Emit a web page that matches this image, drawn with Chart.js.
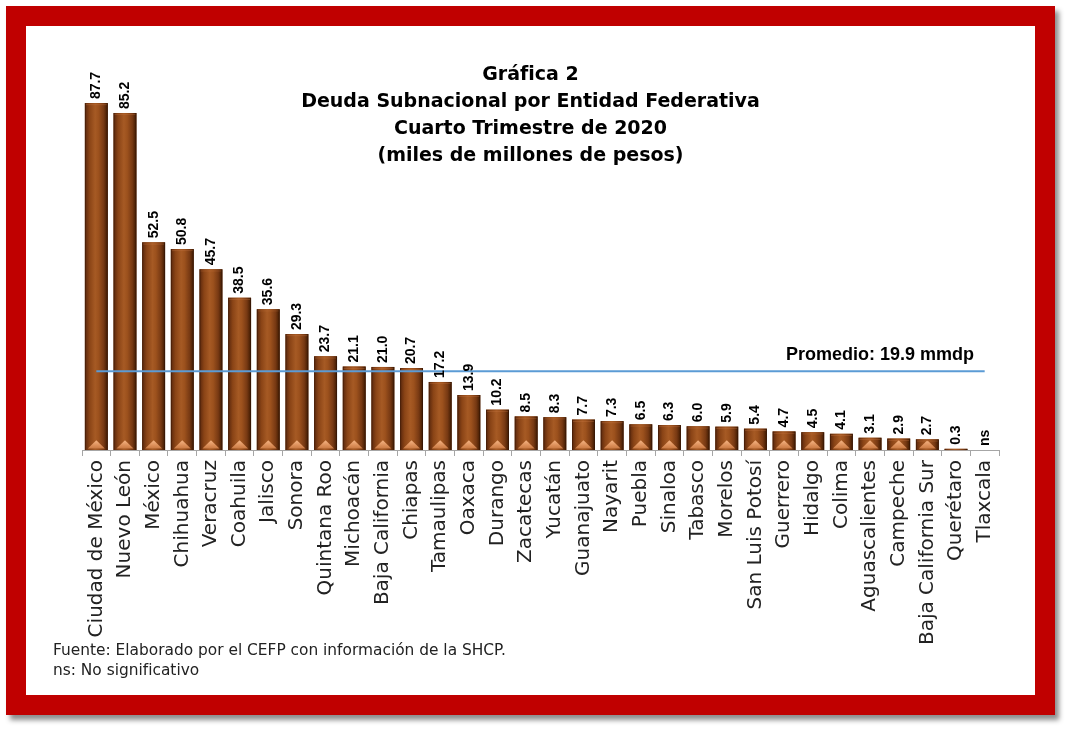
<!DOCTYPE html>
<html lang="es">
<head>
<meta charset="utf-8">
<title>Deuda Subnacional por Entidad Federativa</title>
<script src="https://cdn.jsdelivr.net/npm/chart.js@4"></script>
<style>
  html, body { margin: 0; padding: 0; background: #ffffff; }
  body { width: 1072px; height: 732px; position: relative; overflow: hidden; }
  #frame {
    position: absolute; left: 6px; top: 6px; width: 1049px; height: 709px;
    box-sizing: border-box; border: 20px solid #c00000; background: #fff;
    box-shadow: 4px 5px 5px rgba(0, 0, 0, 0.45);
  }
  #title {
    position: absolute; left: 26px; width: 1009px; top: 60px;
    text-align: center; font: bold 19px "DejaVu Sans", sans-serif;
    line-height: 27px; color: #000;
  }
  #wrap { position: absolute; left: 26px; top: 26px; width: 1009px; height: 619px; }
  #note {
    position: absolute; left: 53px; top: 640px;
    font: 15.4px "DejaVu Sans", sans-serif; line-height: 20px; color: #222;
  }
</style>
</head>
<body>
<div id="frame"></div>
<div id="wrap"><canvas id="deuda-chart"></canvas></div>
<div id="title">Gráfica 2<br>Deuda Subnacional por Entidad Federativa<br>Cuarto Trimestre de 2020<br>(miles de millones de pesos)</div>
<div id="note">Fuente: Elaborado por el CEFP con información de la SHCP.<br>ns: No significativo</div>
<script>
// entidades federativas, ordered as in the source chart
const entidades = [
    "Ciudad de México", "Nuevo León", "México", "Chihuahua", "Veracruz",
    "Coahuila", "Jalisco", "Sonora", "Quintana Roo", "Michoacán",
    "Baja California", "Chiapas", "Tamaulipas", "Oaxaca", "Durango",
    "Zacatecas", "Yucatán", "Guanajuato", "Nayarit", "Puebla",
    "Sinaloa", "Tabasco", "Morelos", "San Luis Potosí", "Guerrero",
    "Hidalgo", "Colima", "Aguascalientes", "Campeche", "Baja California Sur",
    "Querétaro", "Tlaxcala",
];
// deuda, miles de millones de pesos (null = no significativo)
const deuda = [
    87.7, 85.2, 52.5, 50.8, 45.7,
    38.5, 35.6, 29.3, 23.7, 21.1,
    21.0, 20.7, 17.2, 13.9, 10.2,
    8.5, 8.3, 7.7, 7.3, 6.5,
    6.3, 6.0, 5.9, 5.4, 4.7,
    4.5, 4.1, 3.1, 2.9, 2.7,
    0.3, null,
];
const promedio = 19.9;
const promedioLabel = "Promedio: 19.9 mmdp";
const yMax = 90;

const promedioLine = entidades.map(() => promedio);

// brown bars with a bevelled look, like the office chart
const bevelBars = {
    id: "bevelBars",
    afterDatasetDraw(chart, args) {
        if (args.meta.type !== "bar") return;
        const ctx = chart.ctx;
        args.meta.data.forEach((bar, i) => {
            if (deuda[i] == null) return;
            const p = bar.getProps(["x", "y", "base", "width"], true);
            if (![p.x, p.y, p.base, p.width].every(Number.isFinite)) return;
            const left = p.x - p.width / 2, right = p.x + p.width / 2;
            const top = Math.min(p.y, p.base), bottom = Math.max(p.y, p.base);
            const h = bottom - top;
            if (h <= 0) return;
            const g = ctx.createLinearGradient(left, 0, right, 0);
            g.addColorStop(0, "#3a1604");
            g.addColorStop(0.07, "#6a3110");
            g.addColorStop(0.2, "#8a4416");
            g.addColorStop(0.45, "#a65a24");
            g.addColorStop(0.6, "#9c511d");
            g.addColorStop(0.82, "#773913");
            g.addColorStop(0.93, "#532507");
            g.addColorStop(1, "#2a0f02");
            ctx.save();
            ctx.fillStyle = g;
            ctx.fillRect(left, top, p.width, h);
            // bottom bevel
            ctx.beginPath();
            ctx.rect(left, top + 1.5, p.width, h - 1.5);
            ctx.clip();
            const b = 4;
            const th = (p.width - 2 * b) * 0.55;
            const tg = ctx.createLinearGradient(0, bottom - th, 0, bottom);
            tg.addColorStop(0, "#eeaa78");
            tg.addColorStop(0.5, "#d98b55");
            tg.addColorStop(1, "#c0703a");
            ctx.fillStyle = tg;
            ctx.beginPath();
            ctx.moveTo(left + b - 1, bottom - 1.5);
            ctx.lineTo(right - b + 1, bottom - 1.5);
            ctx.lineTo(p.x, bottom - 1.5 - th);
            ctx.closePath();
            ctx.fill();
            // top edge highlight
            ctx.fillStyle = "rgba(200, 120, 70, 0.6)";
            ctx.fillRect(left + 1, top, p.width - 2, 2);
            ctx.restore();
        });
    },
};

// rotated value labels + promedio caption
const valueLabels = {
    id: "valueLabels",
    afterDatasetsDraw(chart) {
        const ctx = chart.ctx;
        const xs = chart.scales.x, ys = chart.scales.y;
        ctx.save();
        ctx.fillStyle = "#000";
        ctx.font = "bold 14px 'Liberation Sans', Arial, sans-serif";
        ctx.textAlign = "left";
        ctx.textBaseline = "middle";
        deuda.forEach((v, i) => {
            const x = xs.getPixelForValue(i);
            const y = ys.getPixelForValue(v == null ? 0 : v);
            const txt = v == null ? "ns" : v.toFixed(1);
            ctx.save();
            ctx.translate(x, y - 4);
            ctx.rotate(-Math.PI / 2);
            ctx.fillText(txt, 0, 0);
            ctx.restore();
        });
        ctx.font = "bold 18px 'Liberation Sans', Arial, sans-serif";
        ctx.textAlign = "right";
        ctx.textBaseline = "alphabetic";
        ctx.fillText(promedioLabel, chart.chartArea.right - 25, ys.getPixelForValue(promedio) - 11);
        ctx.restore();
    },
};

function initDeudaChart() {
    const canvas = document.getElementById("deuda-chart");
    if (!canvas) return;

    new Chart(canvas, {
        data: {
            labels: entidades,
            datasets: [
                {
                    type: "line",
                    label: "Promedio",
                    data: promedioLine,
                    borderColor: "#5b9bd5",
                    borderWidth: 2,
                    pointRadius: 0,
                    order: 0,
                },
                {
                    type: "bar",
                    label: "Deuda",
                    data: deuda,
                    backgroundColor: "#8b4513",
                    borderWidth: 0,
                    categoryPercentage: 1,
                    barPercentage: 0.8,
                    order: 1,
                },
            ],
        },
        options: {
            responsive: true,
            maintainAspectRatio: false,
            animation: false,
            layout: { padding: { left: 56, right: 36, top: 68, bottom: 0 } },
            plugins: {
                legend: { display: false },
                tooltip: { enabled: false },
            },
            scales: {
                x: {
                    grid: { offset: true, drawOnChartArea: false, tickLength: 6, color: "#a6a6a6" },
                    border: { color: "#a6a6a6" },
                    ticks: {
                        autoSkip: false,
                        minRotation: 90,
                        maxRotation: 90,
                        padding: 4,
                        color: "#222",
                        font: { family: "'DejaVu Sans', sans-serif", size: 20 },
                    },
                    afterFit(scale) { scale.height = 195; },
                },
                y: { display: false, min: 0, max: yMax },
            },
        },
        plugins: [bevelBars, valueLabels],
    });
}

if (document.readyState === "loading") {
    document.addEventListener("DOMContentLoaded", initDeudaChart);
} else {
    initDeudaChart();
}
</script>
</body>
</html>
